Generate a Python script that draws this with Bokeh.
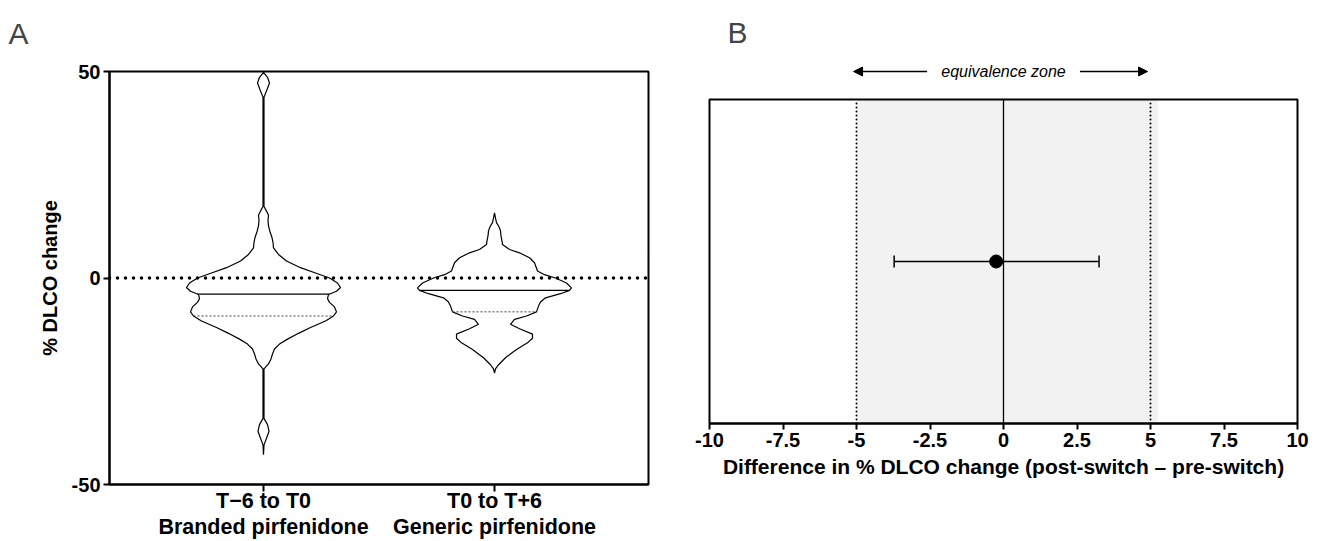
import numpy as np
from bokeh.plotting import figure
from bokeh.layouts import row
from bokeh.models import (Label, Arrow, NormalHead, FixedTicker, Range1d, LinearAxis,
                          BoxAnnotation, Whisker, ColumnDataSource)
from bokeh.embed import file_html
from bokeh.resources import INLINE

FONT = "Liberation Sans"

# ---------------- Panel A data ----------------
group_pos = [1, 2]
group_line1 = ["T\u22126 to T0", "T0 to T+6"]
group_line2 = ["Branded pirfenidone", "Generic pirfenidone"]
a_ticks = [-50, 0, 50]
a_tick_labels = ["-50", "0", "50"]

# violin 1 (branded): value and relative density (half-width)
v1_y = [49.8, 48.6, 47.2, 45.6, 43.8, 30.0, 17.3, 16.2, 15.2, 14.0, 12.6, 11.2,
        9.8, 8.6, 7.3, 5.7, 4.1, 2.5, 1.2, 0.0, -1.2, -2.3, -3.2, -4.0, -5.0,
        -5.9, -7.0, -8.2, -9.2, -10.4, -12.0, -13.4, -14.8, -16.0, -17.2, -18.4,
        -19.6, -20.8, -22.0, -30.0, -34.0, -35.5, -37.1, -38.8, -40.4, -42.8]
v1_d = [0, 4, 6, 3.5, 0.5, 0.5, 0.5, 3, 5, 4.5, 5, 6.5,
        8.5, 9.5, 10, 15, 23, 37, 52, 66, 74, 77, 73, 65, 64,
        66, 71, 73, 70, 62, 47, 35, 24, 16, 11, 9,
        7.5, 5, 0.5, 0.5, 0.5, 4, 5.5, 3, 0.5, 0]
# violin 2 (generic)
v2_y = [15.8, 14.5, 13.4, 12.4, 11.4, 10.2, 9.0, 8.1, 6.9, 6.1, 4.9, 3.7,
        1.7, 0.8, 0.0, -1.2, -2.4, -3.0, -3.8, -4.8, -5.8, -6.8, -8.2, -9.2,
        -10.0, -11.2, -12.3, -13.6, -14.6, -15.7, -17.3, -19.3, -21.0, -22.0, -23.0]
v2_d = [0, 1, 2, 4.5, 6, 6.5, 7.5, 8, 15, 25, 35, 40,
        43, 50, 61, 72, 77, 75, 66, 51, 46, 44, 42, 32,
        20, 16, 25, 38, 38, 33, 22, 11, 4, 1, 0]
medians = [-3.9, -3.0]
lower_quartiles = [-9.2, -8.2]

# ---------------- Panel B data ----------------
diff_est = -0.25
ci_low = -3.72
ci_high = 3.25
eq_margin = 5
b_ticks = [-10, -7.5, -5, -2.5, 0, 2.5, 5, 7.5, 10]
b_tick_labels = ["-10", "-7.5", "-5", "-2.5", "0", "2.5", "5", "7.5", "10"]

# ---------------- layout (pixels) ----------------
H = 541
WA, WB = 673, 647
A_LEFT, A_RIGHT, A_TOP, A_BOT = 109, 648, 71, 484
B_LEFT, B_RIGHT, B_TOP, B_BOT = 709, 1297, 99, 423

ax0, ax1 = 1 / 3, 8 / 3
axs = (ax1 - ax0) / (A_RIGHT - A_LEFT)
ays = 100 / (A_BOT - A_TOP)
A_xr = Range1d(ax0 - A_LEFT * axs, ax0 + (WA - A_LEFT) * axs)
A_yr = Range1d(-50 - (H - A_BOT) * ays, 50 + A_TOP * ays)


def ay(px):
    return 50 + (A_TOP - px) * ays


def axp(px):
    return ax0 + (px - A_LEFT) * axs


bxs = 20 / (B_RIGHT - B_LEFT)
bys = 1 / (B_BOT - B_TOP)
B_xr = Range1d(-10 - (B_LEFT - WA) * bxs, 10 + (WA + WB - B_RIGHT) * bxs)
B_yr = Range1d(0 - (H - B_BOT) * bys, 1 + B_TOP * bys)


def by(px):
    return 1 + (B_TOP - px) * bys


def bxp(px):
    return -10 + (px - B_LEFT) * bxs


def base_fig(w, xr, yr):
    p = figure(width=w, height=H, output_backend="svg", toolbar_location=None,
               x_range=xr, y_range=yr, x_axis_location=None, y_axis_location=None,
               min_border=0, min_border_left=0, min_border_right=0,
               min_border_top=0, min_border_bottom=0)
    p.grid.visible = False
    p.outline_line_color = None
    p.background_fill_color = "white"
    p.border_fill_color = "white"
    return p


def style_axis(a, size="20px"):
    a.minor_tick_line_color = None
    a.major_tick_in = 0
    a.major_tick_line_width = 2
    a.major_tick_line_color = "black"
    a.axis_line_width = 2
    a.axis_line_color = "black"
    a.major_label_text_font = FONT
    a.major_label_text_font_style = "bold"
    a.major_label_text_font_size = size
    a.major_label_text_color = "black"
    a.axis_label_text_font = FONT
    a.axis_label_text_font_style = "bold"
    a.axis_label_text_color = "black"


# ================= Panel A =================
pA = base_fig(WA, A_xr, A_yr)

MAXW = 1 / 3
violins = [(v1_y, v1_d), (v2_y, v2_d)]
for i, (vy, vd) in enumerate(violins):
    c = group_pos[i]
    y = np.array(vy, dtype=float)
    d = np.array(vd, dtype=float)
    hw = d / d.max() * MAXW
    xs = np.concatenate([c + hw, (c - hw)[::-1]])
    ys = np.concatenate([y, y[::-1]])
    pA.patch(xs, ys, fill_color="white", fill_alpha=0, line_color="black", line_width=1.2)
    order = np.argsort(y)
    hm = np.interp(medians[i], y[order], hw[order])
    pA.segment(c - hm, medians[i], c + hm, medians[i], line_color="black", line_width=1.2)
    hq = np.interp(lower_quartiles[i], y[order], hw[order])
    pA.segment(c - hq, lower_quartiles[i], c + hq, lower_quartiles[i],
               line_color="#444444", line_width=1, line_dash="2 2")

pA.segment(ax0, 0, ax1, 0, line_color="black", line_width=3.5, line_dash="0 8",
           line_cap="round")

pA.add_layout(BoxAnnotation(left=ax0, right=ax1, bottom=-50, top=50, fill_color=None,
                            fill_alpha=0, line_color="black", line_alpha=1,
                            line_width=2))

ya = LinearAxis(fixed_location=ax0, bounds=(-50, 50), ticker=FixedTicker(ticks=a_ticks))
style_axis(ya)
ya.major_label_overrides = dict(zip(a_ticks, a_tick_labels))
ya.major_tick_out = 6
ya.major_label_standoff = 3
ya.axis_label = "% DLCO change"
ya.axis_label_text_font_size = "20px"
ya.axis_label_standoff = 8
pA.add_layout(ya, "left")

xa = LinearAxis(fixed_location=-50, bounds=(ax0, ax1), ticker=FixedTicker(ticks=group_pos))
style_axis(xa)
xa.major_label_overrides = {1: "", 2: ""}
xa.major_tick_out = 7
pA.add_layout(xa, "below")

for i, c in enumerate(group_pos):
    pA.add_layout(Label(x=c, y=ay(500), text=group_line1[i], text_align="center",
                        text_baseline="middle", text_font=FONT, text_font_style="bold",
                        text_font_size="21.5px", text_color="black"))
    pA.add_layout(Label(x=c, y=ay(526), text=group_line2[i], text_align="center",
                        text_baseline="middle", text_font=FONT, text_font_style="bold",
                        text_font_size="21.5px", text_color="black"))

pA.add_layout(Label(x=axp(8), y=ay(33), text="A", text_align="left",
                    text_baseline="alphabetic", text_font=FONT, text_font_size="30px",
                    text_color="#444444"))

# ================= Panel B =================
pB = base_fig(WB, B_xr, B_yr)

pB.add_layout(BoxAnnotation(left=-eq_margin, right=eq_margin + 0.25, bottom=0, top=1,
                            fill_color="#f2f2f2", fill_alpha=1, line_color=None,
                            level="underlay"))
pB.segment([-eq_margin, eq_margin], [0, 0], [-eq_margin, eq_margin], [1, 1],
           line_color="black", line_width=2, line_dash="0 4", line_cap="round")
pB.segment(0, 0, 0, 1, line_color="black", line_width=1.3)

src = ColumnDataSource(dict(base=[0.5], lower=[ci_low], upper=[ci_high]))
w = Whisker(source=src, base="base", lower="lower", upper="upper", dimension="width",
            line_color="black", line_width=1.5)
w.upper_head.size = 12
w.lower_head.size = 12
w.upper_head.line_width = 1.5
w.lower_head.line_width = 1.5
pB.add_layout(w)
pB.scatter([diff_est], [0.5], size=13, color="black")

pB.add_layout(BoxAnnotation(left=-10, right=10, bottom=0, top=1, fill_color=None,
                            fill_alpha=0, line_color="black", line_alpha=1,
                            line_width=2))

xb = LinearAxis(fixed_location=0, bounds=(-10, 10), ticker=FixedTicker(ticks=b_ticks))
style_axis(xb)
xb.major_label_overrides = dict(zip(b_ticks, b_tick_labels))
xb.major_tick_out = 6
xb.major_label_standoff = 3
xb.axis_label = "Difference in % DLCO change (post-switch \u2013 pre-switch)"
xb.axis_label_text_font_size = "21px"
xb.axis_label_standoff = 5
pB.add_layout(xb, "below")

y_arrow = by(71)
pB.add_layout(Label(x=0, y=y_arrow, text="equivalence zone", text_align="center",
                    text_baseline="middle", text_font=FONT, text_font_style="italic",
                    text_font_size="16px", text_color="black"))
pB.add_layout(Arrow(x_start=-2.6, y_start=y_arrow, x_end=-5.1, y_end=y_arrow,
                    line_color="black", line_width=1.5,
                    end=NormalHead(size=9, fill_color="black", line_color="black")))
pB.add_layout(Arrow(x_start=2.6, y_start=y_arrow, x_end=4.9, y_end=y_arrow,
                    line_color="black", line_width=1.5,
                    end=NormalHead(size=9, fill_color="black", line_color="black")))
pB.add_layout(Label(x=bxp(727), y=by(32), text="B", text_align="left",
                    text_baseline="alphabetic", text_font=FONT, text_font_size="30px",
                    text_color="#444444"))

layout = row(pA, pB)
open("out.html", "w").write(file_html(layout, INLINE))
